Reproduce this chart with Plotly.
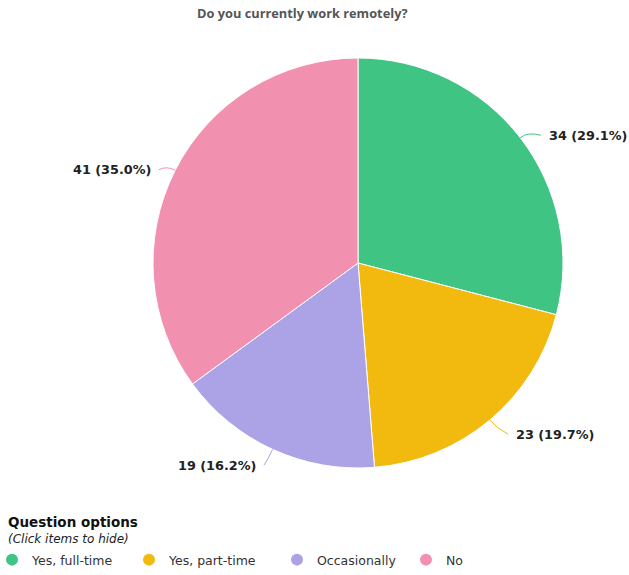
import math
import plotly.graph_objects as go

# ---- data ----
labels = ["Yes, full-time", "Yes, part-time", "Occasionally", "No"]
values = [34, 23, 19, 41]
colors = ["#40C483", "#F2B90F", "#ABA3E6", "#F290B0"]
title_text = "Do you currently work remotely?"
legend_title = "Question options"
legend_subtitle = "(Click items to hide)"

W, H = 629, 575
CX, CY, R = 358, 263, 205  # pie centre / radius in pixels


def px(x):
    return x / W


def py(y):
    return 1 - y / H


fig = go.Figure()
fig.add_trace(go.Pie(
    labels=labels, values=values, sort=False, direction="clockwise", rotation=0,
    marker=dict(colors=colors, line=dict(color="white", width=1)),
    textinfo="none", hoverinfo="label+value+percent", showlegend=False,
    domain=dict(x=[px(CX - R), px(CX + R)], y=[py(CY + R), py(CY - R)]),
))

# legend entries (circle markers)
leg_widths = [100, 111, 92, 30]
for lab, col, lw in zip(labels, colors, leg_widths):
    fig.add_trace(go.Scatter(
        x=[None], y=[None], mode="markers", name=lab, legendwidth=lw,
        marker=dict(symbol="circle", size=12, color=col),
    ))

# outside labels with connectors, computed from the data
total = sum(values)
cum = 0
shapes = []
annotations = []
for v, col in zip(values, colors):
    mid = (cum + v / 2) / total * 2 * math.pi
    cum += v
    s, c = math.sin(mid), math.cos(mid)
    side = 1 if s >= 0 else -1
    x0, y0 = CX + R * s, CY - R * c
    xc, yc = CX + (R + 10) * s, CY - (R + 10) * c
    dx = side * (12 + 16 * abs(s)) + (2 if side > 0 else 4)
    dy = -12 * c + 5
    x2, y2 = x0 + dx - side * 6, y0 + dy
    shapes.append(dict(
        type="path", xref="paper", yref="paper",
        path=f"M {px(x0)},{py(y0)} Q {px(xc)},{py(yc)} {px(x2)},{py(y2)}",
        line=dict(color=col, width=1),
    ))
    pct = v / total * 100
    annotations.append(dict(
        x=px(x0 + dx), y=py(y0 + dy), xref="paper", yref="paper",
        text=f"{v} ({pct:.1f}%)", showarrow=False,
        xanchor="left" if side > 0 else "right", yanchor="middle",
        font=dict(family="DejaVu Sans", size=12.8, color="#222", weight="bold"),
    ))

annotations.append(dict(
    x=px(302), y=py(13), xref="paper", yref="paper", text=f"<b>{title_text}</b>",
    showarrow=False, xanchor="center", yanchor="middle",
    font=dict(family="Open Sans", size=12.8, color="#555"),
))
annotations.append(dict(
    x=px(6), y=py(522), xref="paper", yref="paper", text=f"<b>{legend_title}</b>",
    showarrow=False, xanchor="left", yanchor="middle",
    font=dict(family="DejaVu Sans", size=13.5, color="#111"),
))
annotations.append(dict(
    x=px(6), y=py(539), xref="paper", yref="paper", text=f"<i>{legend_subtitle}</i>",
    showarrow=False, xanchor="left", yanchor="middle",
    font=dict(family="DejaVu Sans", size=12, color="#222"),
))

fig.update_layout(
    width=W, height=H, margin=dict(l=0, r=0, t=0, b=0),
    paper_bgcolor="white", plot_bgcolor="white",
    xaxis=dict(visible=False), yaxis=dict(visible=False),
    shapes=shapes, annotations=annotations,
    legend=dict(orientation="h", x=0, y=0, xanchor="left", yanchor="bottom",
                indentation=-8,
                font=dict(family="DejaVu Sans", size=12.5, color="#333"),
                bgcolor="rgba(0,0,0,0)"),
)

fig.write_html(
    "out.html",
    config={"displayModeBar": False},
    post_script="document.body.style.margin='0';document.body.style.overflow='hidden';",
)
